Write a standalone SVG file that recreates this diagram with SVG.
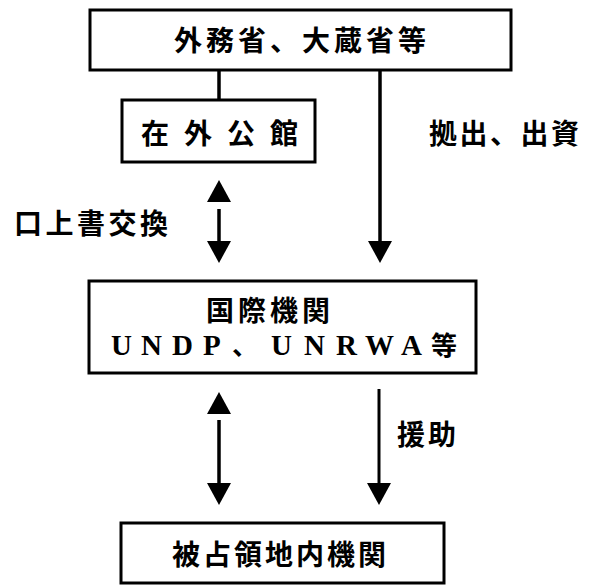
<svg xmlns="http://www.w3.org/2000/svg" xmlns:xlink="http://www.w3.org/1999/xlink" width="589" height="585" viewBox="0 0 589 585">
<style>
  .box { fill: #ffffff; stroke: #000000; stroke-width: 3; }
  .jp { font-family: "Noto Sans CJK JP", "Noto Sans CJK SC", sans-serif; font-weight: 700; font-size: 28px; fill: #000000; }
  .lat { font-family: "Liberation Serif", "Noto Sans CJK JP", serif; font-weight: 700; font-size: 29px; fill: #000000; }
  .ln { stroke: #000000; stroke-width: 3.5; fill: none; }
  .ln2 { stroke: #000000; stroke-width: 3; fill: none; }
</style>
<defs>
  <path id="ah" d="M0,0 L-12,-22 L12,-22 Z" fill="#000000"/>
</defs>
<rect width="589" height="585" fill="#ffffff"/>

<g id="connectors">
  <line class="ln" x1="219" y1="70" x2="219" y2="100"/>
  <line class="ln" x1="380" y1="70" x2="380" y2="244"/>
  <use xlink:href="#ah" href="#ah" transform="translate(380,263)"/>
  <use xlink:href="#ah" href="#ah" transform="translate(219,180) rotate(180)"/>
  <line class="ln" x1="219" y1="209" x2="219" y2="242" stroke-width="4.5"/>
  <use xlink:href="#ah" href="#ah" transform="translate(219,263)"/>
  <use xlink:href="#ah" href="#ah" transform="translate(219,392) rotate(180)"/>
  <line class="ln" x1="219" y1="420" x2="219" y2="485"/>
  <use xlink:href="#ah" href="#ah" transform="translate(219,505)"/>
  <line class="ln2" x1="379" y1="389" x2="379" y2="485"/>
  <use xlink:href="#ah" href="#ah" transform="translate(379,505)"/>
</g>

<g id="mofa">
  <rect class="box" x="90" y="10" width="421" height="60"/>
  <text class="jp" x="174" y="51" letter-spacing="4">外務省、大蔵省等</text>
</g>

<g id="embassy">
  <rect class="box" x="122" y="100" width="193" height="62"/>
  <text class="jp" x="141" y="144" letter-spacing="15">在外公館</text>
</g>

<g id="label-contribution">
  <text class="jp" x="429" y="144" letter-spacing="2.5">拠出、出資</text>
</g>

<g id="label-exchange">
  <text class="jp" x="14" y="234" letter-spacing="3.5">口上書交換</text>
</g>

<g id="intl">
  <rect class="box" x="89" y="281" width="387" height="92"/>
  <text class="jp" x="206" y="321" letter-spacing="4">国際機関</text>
  <text class="lat" y="355"><tspan x="111">U</tspan><tspan x="141">N</tspan><tspan x="172">D</tspan><tspan x="203">P</tspan><tspan x="232" font-family="Noto Sans CJK JP, sans-serif" font-size="26">、</tspan><tspan x="271">U</tspan><tspan x="304">N</tspan><tspan x="336">R</tspan><tspan x="365">W</tspan><tspan x="401">A</tspan><tspan x="431" font-family="Noto Sans CJK JP, sans-serif" font-size="26">等</tspan></text>
</g>

<g id="label-aid">
  <text class="jp" x="397" y="445" letter-spacing="3">援助</text>
</g>

<g id="local">
  <rect class="box" x="121" y="523" width="323" height="60"/>
  <text class="jp" x="172" y="565" letter-spacing="3">被占領地内機関</text>
</g>
</svg>
